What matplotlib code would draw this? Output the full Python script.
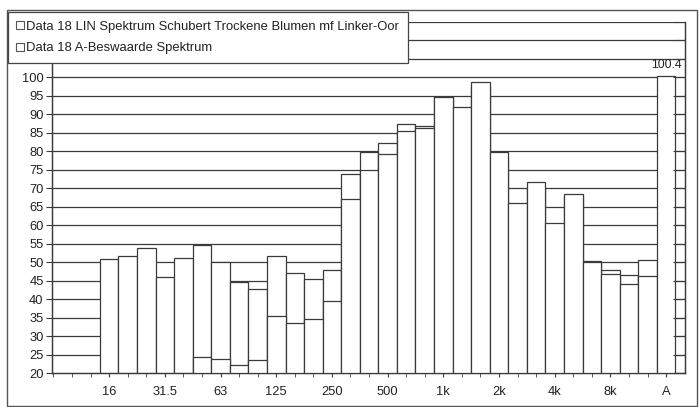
import matplotlib
matplotlib.use('Agg')
import matplotlib.pyplot as plt
import numpy as np
from matplotlib.patches import Rectangle
from matplotlib.lines import Line2D

plt.rcParams['font.family'] = ['Liberation Sans', 'DejaVu Sans']

# 1/3 octave bands + total
bands = ['16', '20', '25', '31.5', '40', '50', '63', '80', '100', '125', '160',
         '200', '250', '315', '400', '500', '630', '800', '1k', '1.25k', '1.6k',
         '2k', '2.5k', '3.15k', '4k', '5k', '6.3k', '8k', '10k', '12.5k', 'A']
lin = [50.9, 51.7, 53.8, 45.9, 51.1, 54.7, 50.2, 44.8, 42.9, 51.8, 47.2,
       45.5, 48.0, 73.8, 79.8, 82.3, 87.3, 86.8, 94.6, 91.3, 97.7,
       78.5, 64.6, 70.4, 59.5, 67.9, 50.3, 48.0, 46.7, 50.5, np.nan]
a_weighted = [-5.8, 1.2, 9.1, 6.5, 16.5, 24.5, 23.9, 22.3, 23.6, 35.6, 33.7,
              34.7, 39.6, 67.1, 75.0, 79.2, 85.6, 86.2, 94.6, 91.9, 98.7,
              79.7, 65.9, 71.6, 60.5, 68.4, 50.2, 46.9, 44.2, 46.4, 100.4]
tick_labels = ['16', '31.5', '63', '125', '250', '500', '1k', '2k', '4k', '8k', 'A']
legend_labels = ['Data 18 LIN Spektrum Schubert Trockene Blumen mf Linker-Oor',
                 'Data 18 A-Beswaarde Spektrum']

W, H = 699, 407
fig = plt.figure(figsize=(W / 100, H / 100), dpi=100)
ax = fig.add_axes([52 / W, 1 - 373.3 / H, (685 - 52) / W, (373.3 - 21.8) / H])

ink = '#3a3a3a'
x = np.arange(len(bands))

# gridlines behind the white bars
for v in range(25, 116, 5):
    ax.axhline(v, color=ink, lw=0.9, zorder=1)

ax.bar(x, lin, width=1.0, color='white', edgecolor=ink, linewidth=0.9, zorder=2)
ax.bar(x, a_weighted, width=1.0, color='white', edgecolor=ink, linewidth=0.9, zorder=3)

# data label on the total
ax.text(x[-1], a_weighted[-1] + 1.2, '100.4', ha='center', va='bottom',
        fontsize=8.8, color='#222222')

ax.set_xlim(-3.08, 31.02)
ax.set_ylim(20, 115)

ax.set_xticks([bands.index(t) for t in tick_labels])
ax.set_xticklabels(tick_labels, fontsize=9.3, color='#222222')
ax.set_xticks(np.arange(-3, 31), minor=True)
ax.tick_params(axis='x', which='major', length=3, color=ink, pad=6)
ax.tick_params(axis='x', which='minor', length=3, color=ink)

ax.set_yticks(np.arange(20, 101, 5))
ax.set_yticklabels([str(v) for v in range(20, 101, 5)], fontsize=9.3, color='#222222')
ax.tick_params(axis='y', length=4, color=ink, pad=2)

# right axis: inward ticks only
ax2 = ax.twinx()
ax2.set_ylim(20, 115)
ax2.set_yticks(np.arange(20, 116, 5))
ax2.set_yticklabels([])
ax2.tick_params(axis='y', direction='in', length=9, color=ink)

for a in (ax, ax2):
    a.spines['top'].set_visible(False)
    for s in ('left', 'right', 'bottom'):
        a.spines[s].set_color(ink)
        a.spines[s].set_linewidth(0.9)

# chart frame
fig.patches.append(Rectangle((7 / W, 1 - 406 / H), 690 / W, 396 / H,
                             transform=fig.transFigure, fill=False,
                             edgecolor='#555555', lw=1.0, zorder=0))

# legend box over the top-left corner
handles = [Line2D([], [], marker='s', ls='', markersize=5.5, markerfacecolor='white',
                  markeredgecolor='#555555', markeredgewidth=0.8) for _ in legend_labels]
leg = fig.legend(handles, legend_labels, loc='upper left',
                 bbox_to_anchor=(8 / W, 1 - 12 / H), fontsize=9.4,
                 frameon=True, fancybox=False, framealpha=1, edgecolor='#444444',
                 handlelength=0.6, handletextpad=0.15, borderpad=0.65,
                 labelspacing=0.72, borderaxespad=0)
leg.get_frame().set_linewidth(0.9)
for t in leg.get_texts():
    t.set_color('#222222')

fig.savefig('out.png', dpi=100)
